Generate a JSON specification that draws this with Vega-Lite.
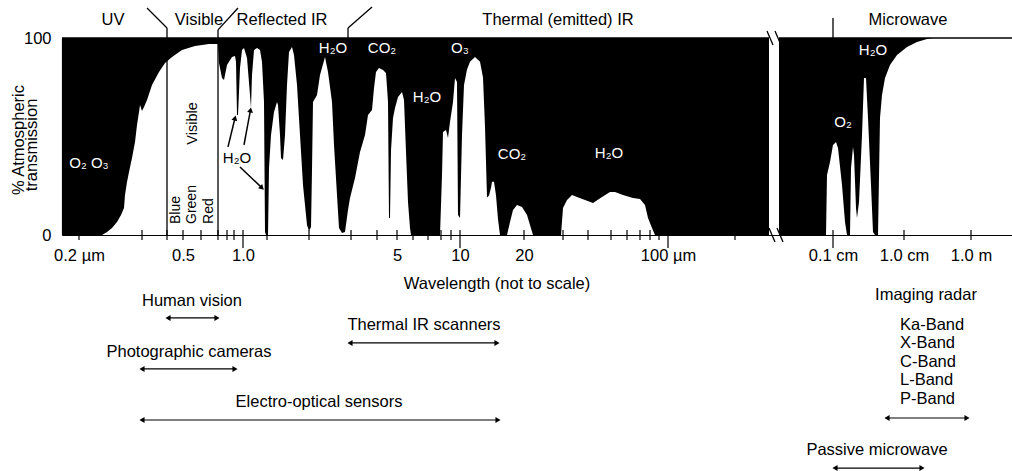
{
  "$schema": "https://vega.github.io/schema/vega-lite/v6.json",
  "width": 950,
  "height": 197,
  "autosize": {"type": "none"},
  "padding": {"left": 62, "top": 38, "right": 0, "bottom": 236},
  "background": "white",
  "config": {"font": "Liberation Sans", "view": {"stroke": null}},
  "datasets": {
    "panels": [
      {"panel": "optical", "start": 62, "end": 769},
      {"panel": "microwave", "start": 779, "end": 1012}
    ],
    "transmission": [
      {"pos": 62, "T": 0}, {"pos": 102, "T": 0}, {"pos": 107, "T": 1.5}, {"pos": 112, "T": 3.6}, {"pos": 117, "T": 6.6},
      {"pos": 121, "T": 10.2}, {"pos": 124, "T": 13.7}, {"pos": 125, "T": 20.3}, {"pos": 127, "T": 26.9}, {"pos": 129, "T": 32},
      {"pos": 132, "T": 39.1}, {"pos": 135, "T": 47.2}, {"pos": 137, "T": 55.8}, {"pos": 139, "T": 62.4}, {"pos": 140, "T": 66},
      {"pos": 142, "T": 62.9}, {"pos": 144, "T": 65}, {"pos": 147, "T": 68.5}, {"pos": 152, "T": 76.1}, {"pos": 159, "T": 82.7},
      {"pos": 165, "T": 87.3}, {"pos": 172, "T": 90.4}, {"pos": 182, "T": 93.9}, {"pos": 195, "T": 95.9}, {"pos": 209, "T": 97},
      {"pos": 218, "T": 97}, {"pos": 219, "T": 87.3}, {"pos": 222, "T": 79.7}, {"pos": 224, "T": 78.7}, {"pos": 227, "T": 86.3},
      {"pos": 232, "T": 90.4}, {"pos": 235, "T": 90.9}, {"pos": 236, "T": 87.8}, {"pos": 237, "T": 60.9}, {"pos": 238, "T": 60.9},
      {"pos": 240, "T": 84.8}, {"pos": 242, "T": 93.9}, {"pos": 244, "T": 94.9}, {"pos": 247, "T": 89.8}, {"pos": 250, "T": 71.1},
      {"pos": 251, "T": 64.5}, {"pos": 252, "T": 81.2}, {"pos": 254, "T": 93.9}, {"pos": 257, "T": 94.9}, {"pos": 260, "T": 93.9},
      {"pos": 262, "T": 87.8}, {"pos": 264, "T": 67.5}, {"pos": 265, "T": 1.5}, {"pos": 266, "T": 0}, {"pos": 268, "T": 0},
      {"pos": 269, "T": 34}, {"pos": 271, "T": 50.8}, {"pos": 274, "T": 62.4}, {"pos": 277, "T": 67.5}, {"pos": 278, "T": 66},
      {"pos": 280, "T": 50.8}, {"pos": 281, "T": 39.1}, {"pos": 283, "T": 38.1}, {"pos": 285, "T": 50.8}, {"pos": 287, "T": 76.1},
      {"pos": 289, "T": 92.9}, {"pos": 292, "T": 95.4}, {"pos": 294, "T": 91.4}, {"pos": 297, "T": 76.1}, {"pos": 300, "T": 50.8},
      {"pos": 303, "T": 25.4}, {"pos": 307, "T": 5.1}, {"pos": 309, "T": 2}, {"pos": 311, "T": 4}, {"pos": 312, "T": 33},
      {"pos": 313, "T": 67.5}, {"pos": 317, "T": 71.1}, {"pos": 320, "T": 81.2}, {"pos": 325, "T": 90.4}, {"pos": 328, "T": 82.7},
      {"pos": 332, "T": 67.5}, {"pos": 334, "T": 45.7}, {"pos": 337, "T": 20.3}, {"pos": 339, "T": 3.6}, {"pos": 342, "T": 1},
      {"pos": 345, "T": 1.5}, {"pos": 348, "T": 12.7}, {"pos": 350, "T": 18.8}, {"pos": 355, "T": 28.9}, {"pos": 360, "T": 42.1},
      {"pos": 365, "T": 50.8}, {"pos": 368, "T": 60.9}, {"pos": 372, "T": 63.5}, {"pos": 374, "T": 74.6}, {"pos": 376, "T": 82.7},
      {"pos": 379, "T": 84.8}, {"pos": 383, "T": 83.8}, {"pos": 386, "T": 82.2}, {"pos": 388, "T": 67.5}, {"pos": 389, "T": 8.6},
      {"pos": 390, "T": 8.6}, {"pos": 391, "T": 43}, {"pos": 393, "T": 59.4}, {"pos": 395, "T": 64.5}, {"pos": 398, "T": 70},
      {"pos": 402, "T": 72.6}, {"pos": 404, "T": 68.5}, {"pos": 406, "T": 42.1}, {"pos": 408, "T": 16.8}, {"pos": 410, "T": 3.6},
      {"pos": 411, "T": 0}, {"pos": 440, "T": 0}, {"pos": 442, "T": 30.5}, {"pos": 443, "T": 52.3}, {"pos": 446, "T": 53.3},
      {"pos": 448, "T": 49.2}, {"pos": 450, "T": 57.4}, {"pos": 453, "T": 67.5}, {"pos": 455, "T": 79.7}, {"pos": 457, "T": 77.7},
      {"pos": 458, "T": 10.2}, {"pos": 460, "T": 8.6}, {"pos": 462, "T": 50.8}, {"pos": 464, "T": 76.1}, {"pos": 467, "T": 84},
      {"pos": 470, "T": 88}, {"pos": 475, "T": 90.4}, {"pos": 480, "T": 88}, {"pos": 483, "T": 80}, {"pos": 485, "T": 55},
      {"pos": 487, "T": 19}, {"pos": 489, "T": 20}, {"pos": 491, "T": 24}, {"pos": 492, "T": 27}, {"pos": 494, "T": 27},
      {"pos": 496, "T": 20}, {"pos": 498, "T": 8}, {"pos": 500, "T": 0}, {"pos": 507, "T": 0}, {"pos": 510, "T": 6.6},
      {"pos": 513, "T": 12.7}, {"pos": 517, "T": 15.2}, {"pos": 522, "T": 14.2}, {"pos": 527, "T": 10.2}, {"pos": 530, "T": 5.1},
      {"pos": 533, "T": 0}, {"pos": 561, "T": 0}, {"pos": 563, "T": 13.7}, {"pos": 567, "T": 17.8}, {"pos": 572, "T": 20.3},
      {"pos": 577, "T": 19.3}, {"pos": 585, "T": 17.8}, {"pos": 593, "T": 16.2}, {"pos": 602, "T": 19.3}, {"pos": 610, "T": 21.8},
      {"pos": 615, "T": 21.8}, {"pos": 623, "T": 20.3}, {"pos": 633, "T": 18.8}, {"pos": 640, "T": 18.3}, {"pos": 645, "T": 15.2},
      {"pos": 648, "T": 8.6}, {"pos": 652, "T": 3.6}, {"pos": 655, "T": 0}, {"pos": 826, "T": 0}, {"pos": 827, "T": 30.5},
      {"pos": 830, "T": 37.1}, {"pos": 833, "T": 45.7}, {"pos": 836, "T": 47.2}, {"pos": 838, "T": 44.2}, {"pos": 842, "T": 25.4},
      {"pos": 845, "T": 6.6}, {"pos": 847, "T": 0}, {"pos": 850, "T": 0}, {"pos": 851, "T": 34}, {"pos": 853, "T": 44.7},
      {"pos": 854, "T": 40.6}, {"pos": 856, "T": 13.7}, {"pos": 857, "T": 8.6}, {"pos": 859, "T": 16.8}, {"pos": 862, "T": 50.8},
      {"pos": 864, "T": 79.7}, {"pos": 866, "T": 79.7}, {"pos": 868, "T": 59.4}, {"pos": 871, "T": 25.4}, {"pos": 873, "T": 1.5},
      {"pos": 875, "T": 0}, {"pos": 878, "T": 0}, {"pos": 880, "T": 59.4}, {"pos": 882, "T": 71.1}, {"pos": 885, "T": 79.7},
      {"pos": 890, "T": 86.3}, {"pos": 897, "T": 91.4}, {"pos": 907, "T": 95.4}, {"pos": 917, "T": 98}, {"pos": 927, "T": 99.5},
      {"pos": 933, "T": 100}, {"pos": 1012, "T": 100}
    ],
    "segments": [
      {"part": "blue edge", "x1": 167, "y1": 0, "x2": 167, "y2": 100},
      {"part": "red edge", "x1": 218, "y1": 0, "x2": 218, "y2": 100},
      {"part": "UV|Visible", "x1": 167, "y1": 100, "x2": 167, "y2": 105.1},
      {"part": "UV|Visible", "x1": 167, "y1": 105.1, "x2": 147, "y2": 115.2},
      {"part": "Visible|Reflected IR", "x1": 218, "y1": 100, "x2": 218, "y2": 104.1},
      {"part": "Visible|Reflected IR", "x1": 218, "y1": 104.1, "x2": 238, "y2": 115.2},
      {"part": "Reflected|Thermal", "x1": 348, "y1": 100, "x2": 348, "y2": 105.1},
      {"part": "Reflected|Thermal", "x1": 348, "y1": 105.1, "x2": 372, "y2": 115.7},
      {"part": "Microwave", "x1": 833, "y1": 100, "x2": 833, "y2": 110.2},
      {"part": "break", "x1": 767, "y1": 103.6, "x2": 773, "y2": 96.4},
      {"part": "break", "x1": 775, "y1": 103.6, "x2": 781, "y2": 96.4},
      {"part": "break", "x1": 769, "y1": 3.6, "x2": 775, "y2": -3.6},
      {"part": "break", "x1": 777, "y1": 3.6, "x2": 783, "y2": -3.6},
      {"part": "top", "x1": 62, "y1": 100, "x2": 769, "y2": 100},
      {"part": "top", "x1": 779, "y1": 100, "x2": 1012, "y2": 100}
    ],
    "ticks": [
      {"pos": 79, "major": false}, {"pos": 142, "major": false}, {"pos": 167, "major": false}, {"pos": 183, "major": false},
      {"pos": 201, "major": false}, {"pos": 218, "major": false}, {"pos": 227, "major": false}, {"pos": 234, "major": false},
      {"pos": 243, "major": true}, {"pos": 267, "major": false}, {"pos": 309, "major": false}, {"pos": 351, "major": false},
      {"pos": 377, "major": false}, {"pos": 397, "major": false}, {"pos": 413, "major": false}, {"pos": 428, "major": false},
      {"pos": 441, "major": false}, {"pos": 451, "major": false}, {"pos": 460, "major": true}, {"pos": 524, "major": false},
      {"pos": 563, "major": false}, {"pos": 588, "major": false}, {"pos": 611, "major": false}, {"pos": 627, "major": false},
      {"pos": 640, "major": false}, {"pos": 650, "major": false}, {"pos": 659, "major": false}, {"pos": 668, "major": true},
      {"pos": 735, "major": false}, {"pos": 833, "major": true}, {"pos": 904, "major": false}, {"pos": 971, "major": false}
    ],
    "notes": [
      {"group": "header", "text": "UV", "pos": 113, "T": 109.1},
      {"group": "header", "text": "Visible", "pos": 199, "T": 109.1},
      {"group": "header", "text": "Reflected IR", "pos": 282, "T": 109.1},
      {"group": "header", "text": "Thermal (emitted) IR", "pos": 558, "T": 109.1},
      {"group": "header", "text": "Microwave", "pos": 908, "T": 109.1},
      {"group": "gasWhite", "text": "O₂ O₃", "pos": 89, "T": 36.5},
      {"group": "gasWhite", "text": "H₂O", "pos": 333, "T": 94.9},
      {"group": "gasWhite", "text": "CO₂", "pos": 382, "T": 94.9},
      {"group": "gasWhite", "text": "H₂O", "pos": 427, "T": 70.1},
      {"group": "gasWhite", "text": "O₃", "pos": 460, "T": 94.9},
      {"group": "gasWhite", "text": "CO₂", "pos": 512, "T": 41.1},
      {"group": "gasWhite", "text": "H₂O", "pos": 609, "T": 41.6},
      {"group": "gasWhite", "text": "O₂", "pos": 843, "T": 57.4},
      {"group": "gasWhite", "text": "H₂O", "pos": 873, "T": 93.9},
      {"group": "gasBlack", "text": "H₂O", "pos": 237, "T": 39.1},
      {"group": "colors", "text": "Blue", "pos": 176, "T": 5.6},
      {"group": "colors", "text": "Green", "pos": 192, "T": 5.6},
      {"group": "colors", "text": "Red", "pos": 209, "T": 5.6},
      {"group": "visible", "text": "Visible", "pos": 193, "T": 56.6},
      {"group": "ytitle", "text": "% Atmospheric", "pos": 18.5, "T": 48.2},
      {"group": "ytitle", "text": "transmission", "pos": 32, "T": 45.7},
      {"group": "sensor", "text": "Wavelength (not to scale)", "pos": 497, "T": -24.9},
      {"group": "sensor", "text": "Human vision", "pos": 192, "T": -33.5},
      {"group": "sensor", "text": "Thermal IR scanners", "pos": 424, "T": -45.7},
      {"group": "sensor", "text": "Photographic cameras", "pos": 189, "T": -59.4},
      {"group": "sensor", "text": "Electro-optical sensors", "pos": 319, "T": -84.8},
      {"group": "sensor", "text": "Imaging radar", "pos": 926, "T": -30.5},
      {"group": "sensor", "text": "Passive microwave", "pos": 877, "T": -109.1},
      {"group": "radar", "text": "Ka-Band", "pos": 900, "T": -45.7},
      {"group": "radar", "text": "X-Band", "pos": 900, "T": -54.8},
      {"group": "radar", "text": "C-Band", "pos": 900, "T": -64.5},
      {"group": "radar", "text": "L-Band", "pos": 900, "T": -73.6},
      {"group": "radar", "text": "P-Band", "pos": 900, "T": -83.2}
    ],
    "ranges": [
      {"sensor": "Human vision", "from": 168, "to": 217, "level": -42.1},
      {"sensor": "Thermal IR scanners", "from": 350, "to": 497, "level": -54.8},
      {"sensor": "Photographic cameras", "from": 142, "to": 235, "level": -68},
      {"sensor": "Electro-optical sensors", "from": 142, "to": 498, "level": -93.9},
      {"sensor": "Imaging radar", "from": 887, "to": 967, "level": -92.9},
      {"sensor": "Passive microwave", "from": 835, "to": 922, "level": -118.3}
    ],
    "pointers": [
      {"fromX": 228, "fromT": 44.7, "toX": 235, "toT": 59.4, "heading": 14},
      {"fromX": 244, "fromT": 45.7, "toX": 250.5, "toT": 63.5, "heading": 10},
      {"fromX": 240, "fromT": 34.5, "toX": 262, "toT": 23.9, "heading": 134}
    ]
  },
  "layer": [
    {
      "data": {"name": "panels"},
      "mark": {"type": "rect", "color": "black"},
      "encoding": {
        "x": {"field": "start", "type": "quantitative", "title": null,
          "scale": {"domain": [62, 1012], "nice": false, "zero": false},
          "axis": {
            "values": [79, 183, 243, 397, 460, 524, 668, 833, 904, 971],
            "labelExpr": "datum.value==79?'0.2 µm':datum.value==183?'0.5':datum.value==243?'1.0':datum.value==397?'5':datum.value==460?'10':datum.value==524?'20':datum.value==668?'100 µm':datum.value==833?'0.1 cm':datum.value==904?'1.0 cm':'1.0 m'",
            "ticks": false, "tickSize": 0, "labelPadding": 12, "labelFontSize": 16.5, "labelColor": "black",
            "labelFont": "Liberation Sans", "labelOverlap": false, "labelFlush": false, "grid": false,
            "domainColor": "black", "domainWidth": 1.2, "zindex": 1
          }
        },
        "x2": {"field": "end"},
        "y": {"datum": 0, "type": "quantitative", "title": null,
          "scale": {"domain": [0, 100], "nice": false, "zero": false},
          "axis": {
            "values": [0, 100], "ticks": false, "tickSize": 0, "labelPadding": 11, "labelFontSize": 16.5,
            "labelColor": "black", "labelFont": "Liberation Sans", "grid": false, "domainColor": "black",
            "domainWidth": 1.2, "zindex": 1
          }
        },
        "y2": {"datum": 100}
      }
    },
    {
      "data": {"name": "transmission"},
      "mark": {"type": "area", "color": "white", "opacity": 1, "interpolate": "linear"},
      "encoding": {
        "x": {"field": "pos", "type": "quantitative", "title": null, "scale": {"domain": [62, 1012], "nice": false, "zero": false}},
        "y": {"field": "T", "type": "quantitative", "title": null, "scale": {"domain": [0, 100], "nice": false, "zero": false}},
        "y2": {"datum": 0}
      }
    },
    {
      "data": {"name": "segments"},
      "mark": {"type": "rule", "color": "black", "strokeWidth": 1.3},
      "encoding": {
        "x": {"field": "x1", "type": "quantitative", "title": null, "scale": {"domain": [62, 1012], "nice": false, "zero": false}},
        "x2": {"field": "x2"},
        "y": {"field": "y1", "type": "quantitative", "title": null, "scale": {"domain": [0, 100], "nice": false, "zero": false}},
        "y2": {"field": "y2"}
      }
    },
    {
      "data": {"name": "ticks"},
      "transform": [{"filter": "!datum.major"}],
      "mark": {"type": "rule", "color": "black", "strokeWidth": 1.2},
      "encoding": {
        "x": {"field": "pos", "type": "quantitative", "title": null, "scale": {"domain": [62, 1012], "nice": false, "zero": false}},
        "y": {"datum": 2.5, "type": "quantitative", "title": null, "scale": {"domain": [0, 100], "nice": false, "zero": false}},
        "y2": {"datum": -2.5}
      }
    },
    {
      "data": {"name": "ticks"},
      "transform": [{"filter": "datum.major"}],
      "mark": {"type": "rule", "color": "black", "strokeWidth": 1.2},
      "encoding": {
        "x": {"field": "pos", "type": "quantitative", "title": null, "scale": {"domain": [62, 1012], "nice": false, "zero": false}},
        "y": {"datum": 2.5, "type": "quantitative", "title": null, "scale": {"domain": [0, 100], "nice": false, "zero": false}},
        "y2": {"datum": -6.6}
      }
    },
    {
      "data": {"name": "notes"},
      "transform": [{"filter": "datum.group=='header' || datum.group=='sensor'"}],
      "mark": {"type": "text", "color": "black", "fontSize": 16.5, "align": "center", "baseline": "middle"},
      "encoding": {
        "x": {"field": "pos", "type": "quantitative", "title": null, "scale": {"domain": [62, 1012], "nice": false, "zero": false}},
        "y": {"field": "T", "type": "quantitative", "title": null, "scale": {"domain": [0, 100], "nice": false, "zero": false}},
        "text": {"field": "text"}
      }
    },
    {
      "data": {"name": "notes"},
      "transform": [{"filter": "datum.group=='radar'"}],
      "mark": {"type": "text", "color": "black", "fontSize": 16.5, "align": "left", "baseline": "middle"},
      "encoding": {
        "x": {"field": "pos", "type": "quantitative", "title": null, "scale": {"domain": [62, 1012], "nice": false, "zero": false}},
        "y": {"field": "T", "type": "quantitative", "title": null, "scale": {"domain": [0, 100], "nice": false, "zero": false}},
        "text": {"field": "text"}
      }
    },
    {
      "data": {"name": "notes"},
      "transform": [{"filter": "datum.group=='gasWhite'"}],
      "mark": {"type": "text", "color": "white", "fontSize": 15, "align": "center", "baseline": "middle"},
      "encoding": {
        "x": {"field": "pos", "type": "quantitative", "title": null, "scale": {"domain": [62, 1012], "nice": false, "zero": false}},
        "y": {"field": "T", "type": "quantitative", "title": null, "scale": {"domain": [0, 100], "nice": false, "zero": false}},
        "text": {"field": "text"}
      }
    },
    {
      "data": {"name": "notes"},
      "transform": [{"filter": "datum.group=='gasBlack'"}],
      "mark": {"type": "text", "color": "black", "fontSize": 15, "align": "center", "baseline": "middle"},
      "encoding": {
        "x": {"field": "pos", "type": "quantitative", "title": null, "scale": {"domain": [62, 1012], "nice": false, "zero": false}},
        "y": {"field": "T", "type": "quantitative", "title": null, "scale": {"domain": [0, 100], "nice": false, "zero": false}},
        "text": {"field": "text"}
      }
    },
    {
      "data": {"name": "notes"},
      "transform": [{"filter": "datum.group=='colors'"}],
      "mark": {"type": "text", "color": "black", "fontSize": 14, "angle": 270, "align": "left", "baseline": "middle"},
      "encoding": {
        "x": {"field": "pos", "type": "quantitative", "title": null, "scale": {"domain": [62, 1012], "nice": false, "zero": false}},
        "y": {"field": "T", "type": "quantitative", "title": null, "scale": {"domain": [0, 100], "nice": false, "zero": false}},
        "text": {"field": "text"}
      }
    },
    {
      "data": {"name": "notes"},
      "transform": [{"filter": "datum.group=='visible'"}],
      "mark": {"type": "text", "color": "black", "fontSize": 14.5, "angle": 270, "align": "center", "baseline": "middle"},
      "encoding": {
        "x": {"field": "pos", "type": "quantitative", "title": null, "scale": {"domain": [62, 1012], "nice": false, "zero": false}},
        "y": {"field": "T", "type": "quantitative", "title": null, "scale": {"domain": [0, 100], "nice": false, "zero": false}},
        "text": {"field": "text"}
      }
    },
    {
      "data": {"name": "notes"},
      "transform": [{"filter": "datum.group=='ytitle'"}],
      "mark": {"type": "text", "color": "black", "fontSize": 16.5, "angle": 270, "align": "center", "baseline": "middle"},
      "encoding": {
        "x": {"field": "pos", "type": "quantitative", "title": null, "scale": {"domain": [62, 1012], "nice": false, "zero": false}},
        "y": {"field": "T", "type": "quantitative", "title": null, "scale": {"domain": [0, 100], "nice": false, "zero": false}},
        "text": {"field": "text"}
      }
    },
    {
      "data": {"name": "ranges"},
      "mark": {"type": "rule", "color": "black", "strokeWidth": 1.2},
      "encoding": {
        "x": {"field": "from", "type": "quantitative", "title": null, "scale": {"domain": [62, 1012], "nice": false, "zero": false}},
        "x2": {"field": "to"},
        "y": {"field": "level", "type": "quantitative", "title": null, "scale": {"domain": [0, 100], "nice": false, "zero": false}}
      }
    },
    {
      "data": {"name": "ranges"},
      "mark": {"type": "point", "shape": "triangle-left", "filled": true, "color": "black", "size": 35, "opacity": 1},
      "encoding": {
        "x": {"field": "from", "type": "quantitative", "title": null, "scale": {"domain": [62, 1012], "nice": false, "zero": false}},
        "y": {"field": "level", "type": "quantitative", "title": null, "scale": {"domain": [0, 100], "nice": false, "zero": false}}
      }
    },
    {
      "data": {"name": "ranges"},
      "mark": {"type": "point", "shape": "triangle-right", "filled": true, "color": "black", "size": 35, "opacity": 1},
      "encoding": {
        "x": {"field": "to", "type": "quantitative", "title": null, "scale": {"domain": [62, 1012], "nice": false, "zero": false}},
        "y": {"field": "level", "type": "quantitative", "title": null, "scale": {"domain": [0, 100], "nice": false, "zero": false}}
      }
    },
    {
      "data": {"name": "pointers"},
      "mark": {"type": "rule", "color": "black", "strokeWidth": 1.5},
      "encoding": {
        "x": {"field": "fromX", "type": "quantitative", "title": null, "scale": {"domain": [62, 1012], "nice": false, "zero": false}},
        "x2": {"field": "toX"},
        "y": {"field": "fromT", "type": "quantitative", "title": null, "scale": {"domain": [0, 100], "nice": false, "zero": false}},
        "y2": {"field": "toT"}
      }
    },
    {
      "data": {"name": "pointers"},
      "mark": {"type": "point", "shape": "triangle-up", "filled": true, "color": "black", "size": 35, "opacity": 1},
      "encoding": {
        "x": {"field": "toX", "type": "quantitative", "title": null, "scale": {"domain": [62, 1012], "nice": false, "zero": false}},
        "y": {"field": "toT", "type": "quantitative", "title": null, "scale": {"domain": [0, 100], "nice": false, "zero": false}},
        "angle": {"field": "heading", "type": "quantitative", "scale": null}
      }
    }
  ]
}
